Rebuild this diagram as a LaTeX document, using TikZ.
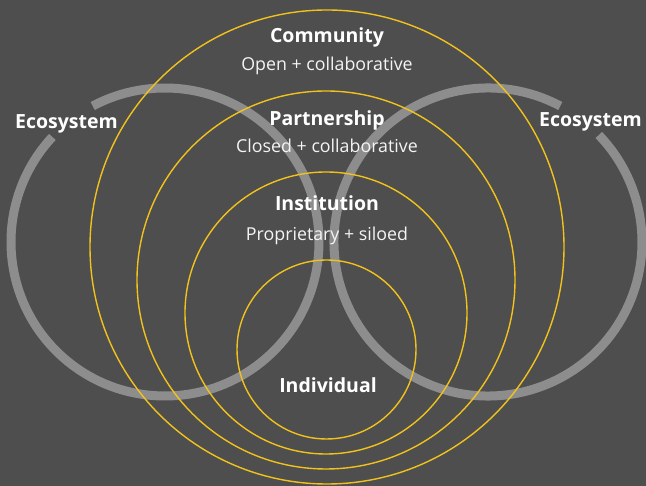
\documentclass[tikz,border=0pt]{standalone}
\usepackage{fontspec}
\setmainfont{Open Sans}
\definecolor{bg}{RGB}{78,78,78}
\definecolor{ring}{RGB}{141,141,141}
\definecolor{gold}{RGB}{241,194,27}
\begin{document}
\begin{tikzpicture}[x=1pt,y=1pt,
  title/.style={text=white,font=\fontsize{19.5}{23}\selectfont\bfseries,anchor=base,inner sep=0pt},
  sub/.style={text=white!94!bg,font=\fontsize{17.8}{21}\selectfont,anchor=base,inner sep=0pt},
  eco/.style={draw=ring,line width=9pt},
  lvl/.style={draw=gold,line width=1.4pt}]
\fill[bg] (0,0) rectangle (646,486);
\useasboundingbox (0,0) rectangle (646,486);
% ecosystem rings
\coordinate (lc) at (165,244);
\coordinate (rc) at (488,244);
\draw[eco] (lc) ++(137:154) arc[start angle=137,end angle=478,radius=154];
\draw[eco] (rc) ++(62:154) arc[start angle=62,end angle=404,radius=154];
% level circles
\node[lvl,circle,minimum size=179pt,inner sep=0pt] (ind) at (326.5,136.5) {};
\node[lvl,circle,minimum size=282pt,inner sep=0pt] (ins) at (326,173) {};
\node[lvl,circle,minimum size=378pt,inner sep=0pt] (par) at (326,206) {};
\node[lvl,circle,minimum size=474pt,inner sep=0pt] (com) at (327,239) {};
% labels
\node[title] (tcom) at (327,443) {Community};
\node[sub] (scom) at (327,415) {Open + collaborative};
\node[title] (tpar) at (327,360) {Partnership};
\node[sub] (spar) at (327,333) {Closed + collaborative};
\node[title] (tins) at (327,275) {Institution};
\node[sub] (sins) at (327,245) {Proprietary + siloed};
\node[title] (tind) at (328,93) {Individual};
\node[title] (ecol) at (66.5,357) {Ecosystem};
\node[title] (ecor) at (590.5,359) {Ecosystem};
\end{tikzpicture}
\end{document}
